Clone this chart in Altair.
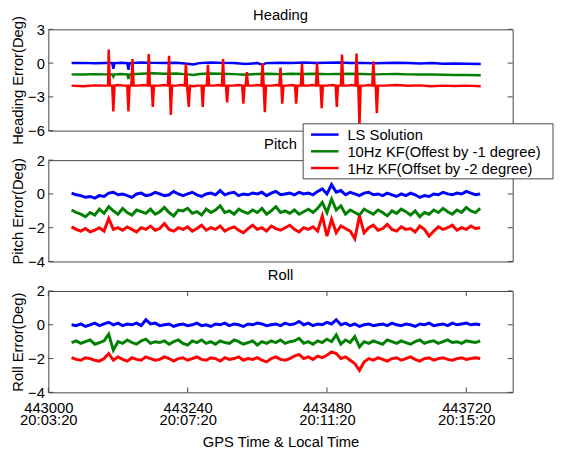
import altair as alt
import pandas as pd

# ---------------- data ----------------
GPS_T0 = 443000  # seconds of GPS week at left edge of the axis

SERIES = ["LS Solution", "10Hz KF(Offest by -1 degree)", "1Hz KF(Offset by -2 degree)"]
COLORS = ["#0000ff", "#008000", "#ff0000"]

PANEL_TITLES = ["Heading", "Pitch", "Roll"]
Y_TITLES = ["Heading Error(Deg)", "Pitch Error(Deg)", "Roll Error(Deg)"]
X_TITLE = "GPS Time & Local Time"

X_TICKS = [443000, 443240, 443480, 443720]
X_TICK_CLOCK = ["20:03:20", "20:07:20", "20:11:20", "20:15:20"]
HEADING_TICKS = [3, 0, -3, -6]
PR_TICKS = [2, 0, -2, -4]

# Heading (seconds after GPS_T0, degrees)
heading_blue_t = [40, 60, 80, 100, 110, 112, 114, 125, 136, 138, 140, 160, 180, 200, 220, 240, 250, 260,
                  280, 300, 320, 340, 360, 369, 375, 400, 420, 440, 460, 480, 500, 520, 540, 560, 580,
                  600, 620, 640, 660, 680, 700, 720, 745]
heading_blue_v = [0.0, 0.02, -0.02, 0.0, 0.0, -0.5, 0.0, 0.03, 0.0, -0.6, 0.0, 0.05, 0.02, 0.0, 0.03,
                  -0.05, -0.12, 0.0, 0.05, 0.02, 0.0, -0.08, 0.0, -0.15, 0.0, 0.03, 0.0, 0.05, 0.0, 0.03,
                  0.05, 0.0, 0.02, -0.02, 0.0, 0.03, 0.0, -0.03, 0.0, -0.05, -0.03, -0.05, -0.08]

heading_green_t = [40, 60, 80, 100, 110, 112, 114, 125, 136, 138, 140, 160, 180, 200, 220, 240, 250, 260,
                   280, 300, 320, 340, 360, 380, 400, 420, 440, 460, 480, 500, 520, 540, 560, 580, 600,
                   620, 640, 660, 680, 700, 720, 745]
heading_green_v = [-1.0, -1.02, -0.98, -1.0, -1.0, -1.2, -1.0, -0.97, -1.0, -1.4, -1.0, -0.95, -0.9,
                   -0.95, -0.92, -1.0, -1.05, -0.97, -0.93, -0.95, -0.98, -1.03, -0.97, -0.95, -0.98,
                   -0.95, -0.97, -0.95, -0.98, -0.96, -0.94, -0.97, -1.0, -0.98, -0.97, -1.0, -1.02,
                   -1.0, -1.03, -1.05, -1.05, -1.07]

heading_red_t = [40, 60, 80, 100,
                 103, 104, 106, 110, 112, 114, 120, 130, 136,
                 138, 140, 143, 145, 147, 155, 165, 171,
                 173, 175, 178, 180, 182, 190, 200, 206,
                 208, 209.5, 211, 213, 220, 230, 235,
                 237, 239, 242, 244, 250, 258, 264,
                 266, 268, 273, 275, 277, 285, 295, 299,
                 301, 303, 306, 308, 310, 318, 328, 334,
                 336, 338, 340, 342, 344, 352, 360, 367,
                 369, 371, 373, 375, 385, 393, 398,
                 400, 401.5, 403, 405, 412, 420, 425,
                 427, 429, 435, 437, 439, 447, 455, 461,
                 463, 465, 469, 471, 473, 480, 490, 495,
                 497, 499, 504, 506, 508, 515, 523, 529,
                 531, 533, 534, 536, 538, 545, 552, 558,
                 560, 562, 564, 566, 568, 580, 600, 620, 640, 660, 680, 700, 720, 745]
heading_red_v = [-2.0, -2.05, -1.98, -2.0,
                 -2.0, 1.2, -2.0, -2.0, -4.3, -2.0, -1.95, -2.0, -2.0,
                 -4.3, -2.0, -2.0, 0.35, -2.0, -2.0, -1.95, -2.0,
                 0.8, -2.0, -2.0, -3.9, -2.0, -2.0, -1.95, -2.0,
                 0.65, -2.0, -4.6, -2.0, -2.0, -1.95, -2.0,
                 -0.05, -2.0, -3.9, -2.0, -2.05, -2.0, -2.0,
                 -3.9, -2.0, -2.0, -0.15, -2.0, -2.0, -1.95, -2.0,
                 0.35, -2.0, -2.0, -3.5, -2.0, -2.0, -1.95, -2.0,
                 -3.6, -2.0, -2.0, -0.8, -2.0, -2.0, -1.95, -2.0,
                 0.0, -2.0, -4.35, -2.0, -2.0, -1.95, -2.0,
                 -0.4, -2.0, -3.6, -2.0, -2.0, -1.95, -2.0,
                 -3.6, -2.0, -2.0, -0.05, -2.0, -2.0, -1.95, -2.0,
                 0.0, -2.0, -2.0, -4.0, -2.0, -2.0, -1.95, -2.0,
                 -3.9, -2.0, -2.0, 0.75, -2.0, -2.0, -1.95, -2.0,
                 0.85, -2.0, -2.0, -5.6, -2.0, -2.0, -1.95, -2.0,
                 0.15, -2.0, -2.0, -4.45, -2.0, -2.0, -1.95, -2.02, -1.98, -2.05, -2.0, -2.03, -2.0, -2.05]

# Pitch & Roll: sampled every 8 s from GPS_T0 + 40 s
PR_START = 40
PR_STEP = 8

pitch_blue = [
    0.05, -0.05, -0.1, -0.2, -0.15, -0.25, -0.1, -0.15, 0.05, 0.1, -0.05, 0.0, -0.1, -0.2, 0.0, 0.05,
    -0.1, -0.05, 0.1, 0.0, -0.1, -0.05, 0.15, 0.0, -0.1, 0.0, 0.1, -0.05, -0.15, 0.0, 0.05, -0.05,
    0.2, -0.05, 0.05, 0.1, -0.1, 0.0, -0.05, 0.05, 0.0, 0.1, -0.1, 0.05, 0.15, -0.05, 0.0, 0.05,
    -0.05, 0.1, 0.0, 0.05, -0.05, 0.15, 0.3, 0.0, 0.55, 0.1, 0.2, -0.05, 0.1, 0.0, -0.1, 0.05,
    0.1, -0.05, 0.0, -0.1, 0.05, -0.05, -0.15, 0.0, -0.1, 0.05, -0.05, -0.2, -0.1, -0.15, 0.0, -0.05,
    0.1, 0.0, -0.05, 0.05, 0.0, 0.15, 0.05, -0.05, 0.0]
pitch_green = [
    -0.95, -1.1, -1.2, -1.35, -1.1, -1.25, -0.9, -1.15, -0.75, -1.0, -1.2, -0.85, -1.1, -1.25, -0.95, -1.05,
    -1.15, -0.9, -1.2, -1.05, -0.8, -1.1, -1.3, -0.95, -1.0, -0.85, -1.15, -1.05, -1.25, -0.9, -1.1, -0.95,
    -0.7, -1.1, -1.0, -1.2, -0.9, -1.05, -1.15, -0.95, -1.1, -0.85, -1.2, -1.0, -0.75, -1.1, -1.0, -1.15,
    -0.95, -1.2, -1.05, -0.9, -1.1, -0.85, -0.5, -1.1, -0.3, -0.95, -0.7, -1.2, -0.95, -1.1, -1.25, -0.9,
    -1.05, -1.2, -0.95, -1.1, -1.3, -1.0, -1.15, -0.9, -1.05, -1.25, -1.0, -1.35, -1.1, -1.2, -0.95, -1.1,
    -0.85, -1.05, -1.2, -0.95, -1.1, -0.8, -1.0, -1.1, -0.85]
pitch_red = [
    -1.95, -2.1, -2.2, -2.05, -2.25, -2.15, -2.0, -2.2, -1.45, -2.1, -2.0, -2.15, -1.95, -2.1, -2.25, -2.0,
    -2.1, -1.9, -2.15, -2.05, -1.75, -2.1, -2.2, -2.0, -2.1, -1.95, -2.2, -2.05, -1.85, -2.15, -2.0, -2.1,
    -1.9, -2.2, -2.05, -1.95, -2.15, -2.3, -2.05, -1.85, -2.1, -2.0, -2.2, -1.9, -2.05, -2.15, -2.0, -1.85,
    -2.1, -2.25, -2.0, -2.1, -1.95, -2.2, -1.3, -2.5, -1.5, -2.3, -1.9, -2.05, -2.2, -2.65, -1.3, -2.3,
    -2.0, -1.85, -2.15, -2.05, -1.8, -2.1, -2.2, -1.95, -2.1, -2.05, -2.25, -1.9, -2.1, -2.5, -2.2, -1.95,
    -2.1, -2.0, -1.85, -2.15, -2.0, -2.1, -1.9, -2.05, -2.0]

roll_blue = [
    0.0, -0.05, 0.05, -0.1, 0.0, 0.1, -0.05, 0.05, 0.15, 0.0, 0.1, -0.05, 0.05, 0.0, 0.1, -0.05,
    0.3, 0.05, 0.1, -0.05, 0.0, 0.05, -0.1, 0.0, 0.05, -0.05, 0.0, 0.1, -0.05, 0.0, -0.1, 0.05,
    0.0, 0.1, -0.05, 0.05, 0.0, -0.1, 0.05, 0.0, 0.1, 0.05, -0.05, 0.0, 0.05, -0.05, 0.1, 0.0,
    0.05, 0.2, 0.0, 0.1, -0.05, 0.05, 0.0, 0.15, 0.05, 0.3, 0.0, 0.1, -0.05, 0.05, -0.1, 0.0,
    0.05, -0.05, 0.0, 0.05, -0.05, 0.1, 0.0, -0.05, 0.05, 0.0, -0.1, 0.05, 0.0, 0.1, -0.05, 0.0,
    0.05, -0.05, 0.1, 0.0, 0.05, 0.1, 0.0, 0.05, 0.0]
roll_green = [
    -1.05, -0.95, -1.1, -1.0, -0.9, -1.15, -1.05, -0.95, -0.55, -1.5, -1.0, -1.1, -0.9, -1.05, -1.15, -0.95,
    -0.85, -1.1, -1.0, -1.05, -0.95, -1.15, -1.0, -0.9, -1.1, -1.2, -0.95, -1.05, -0.9, -1.1, -1.0, -1.15,
    -0.95, -1.05, -1.1, -0.9, -1.0, -1.15, -1.05, -0.95, -1.2, -1.0, -1.1, -0.95, -1.05, -0.9, -1.1, -1.0,
    -0.95, -0.8, -1.1, -1.0, -1.15, -0.95, -1.05, -0.85, -1.0, -0.6, -1.15, -0.9, -1.05, -0.7, -1.3, -1.0,
    -1.1, -0.95, -1.05, -1.15, -0.9, -1.0, -1.1, -0.95, -1.05, -1.15, -1.0, -0.9, -1.1, -1.0, -0.95, -1.1,
    -1.0, -0.9, -1.05, -1.0, -1.1, -0.95, -1.0, -1.05, -0.95]
roll_red = [
    -1.95, -2.05, -2.1, -1.95, -2.0, -2.1, -2.15, -2.0, -1.7, -2.1, -1.9, -2.05, -2.15, -1.95, -2.05, -2.1,
    -1.9, -2.0, -2.1, -2.05, -1.9, -2.0, -2.15, -2.0, -1.95, -2.1, -2.0, -1.9, -2.05, -2.1, -1.95, -2.0,
    -2.15, -1.95, -2.05, -2.0, -1.9, -2.1, -2.0, -2.05, -1.95, -2.1, -2.2, -2.0, -1.9, -2.05, -2.1, -2.0,
    -1.85, -1.75, -2.0, -1.9, -2.05, -1.85, -1.95, -1.8, -1.6, -1.7, -2.0, -1.9, -2.1, -2.3, -2.7, -2.2,
    -2.0, -2.1, -1.95, -2.05, -2.15, -2.0, -1.95, -2.1, -2.0, -1.9, -2.05, -2.15, -2.0, -1.95, -2.1, -2.0,
    -1.95, -2.05, -2.1, -2.0, -1.95, -2.05, -2.0, -1.95, -2.0]

# ---------------- frames ----------------
def make_frame(parts):
    rows = []
    for name, ts, vs in parts:
        for t, v in zip(ts, vs):
            rows.append({"t": GPS_T0 + t, "v": v, "series": name})
    return pd.DataFrame(rows)

pr_t = [PR_START + PR_STEP * i for i in range(len(pitch_blue))]

heading_df = make_frame([(SERIES[0], heading_blue_t, heading_blue_v),
                         (SERIES[1], heading_green_t, heading_green_v),
                         (SERIES[2], heading_red_t, heading_red_v)])
pitch_df = make_frame([(SERIES[0], pr_t, pitch_blue),
                       (SERIES[1], pr_t, pitch_green),
                       (SERIES[2], pr_t, pitch_red)])
roll_df = make_frame([(SERIES[0], pr_t, roll_blue),
                      (SERIES[1], pr_t, roll_green),
                      (SERIES[2], pr_t, roll_red)])

# ---------------- chart ----------------
W, H = 472, 103
TICK = 5
EDGE = "#444444"
FONT = "Liberation Sans"

label_expr = ""
for v, clk in zip(X_TICKS, X_TICK_CLOCK):
    label_expr += f"datum.value == {v} ? ['{v}', '{clk}'] : "
label_expr += "''"

x_scale = alt.Scale(domain=[443000, 443800], nice=False, zero=False)
color_scale = alt.Scale(domain=SERIES, range=COLORS)


def legend_layers():
    """Legend box drawn inside the Pitch panel (overlapping the Heading panel, like MATLAB)."""
    box_x, box_x2, box_y, box_y2 = 259, 513, -37, 19
    row_y = [-26, -9, 8]
    layers = [alt.Chart(pd.DataFrame({"series": [SERIES[0]]})).mark_rect(
        fill="white", stroke=EDGE, strokeWidth=1).encode(
        x=alt.value(box_x), x2=alt.value(box_x2), y=alt.value(box_y), y2=alt.value(box_y2))]
    for i, name in enumerate(SERIES):
        row = alt.Chart(pd.DataFrame({"series": [name]}))
        layers.append(row.mark_rule(strokeWidth=2.5).encode(
            x=alt.value(267), x2=alt.value(295), y=alt.value(row_y[i]),
            color=alt.Color("series:N", scale=color_scale, legend=None)))
        layers.append(row.mark_text(align="left", baseline="middle", fontSize=15, font=FONT,
                                    color="black").encode(
            x=alt.value(304), y=alt.value(row_y[i] + 1), text="series:N"))
    return layers


def panel(df, title, title_y, ytitle, ydomain, yticks, show_x, line_w, with_legend=False):
    if show_x:
        x_axis = alt.Axis(values=X_TICKS, labelExpr=label_expr, ticks=False, tickSize=0, domain=False,
                          grid=False, title=X_TITLE, labelLineHeight=13,
                          labelPadding=8, titleY=55, titleBaseline="alphabetic", labelAngle=0,
                          labelFlush=False, labelOverlap=False)
    else:
        x_axis = None
    X = alt.X("t:Q", scale=x_scale, axis=x_axis)
    y_scale = alt.Scale(domain=ydomain, nice=False, zero=False)
    y_axis = alt.Axis(values=yticks, ticks=False, tickSize=0, domain=False, grid=False, title=ytitle,
                      labelPadding=4, titlePadding=2, labelFlush=False, labelOverlap=False)
    Y = alt.Y("v:Q", scale=y_scale, axis=y_axis)

    lines = alt.Chart(df).mark_line(strokeWidth=line_w, clip=True).encode(
        x=X, y=Y, color=alt.Color("series:N", scale=color_scale, legend=None),
    )
    tdf = pd.DataFrame({"v": yticks})
    yt_left = alt.Chart(tdf).mark_rule(color=EDGE).encode(y=Y, x=alt.value(0), x2=alt.value(TICK))
    yt_right = alt.Chart(tdf).mark_rule(color=EDGE).encode(y=Y, x=alt.value(W - TICK), x2=alt.value(W))
    layers = [lines, yt_left, yt_right]
    if show_x:
        xdf = pd.DataFrame({"t": X_TICKS})
        layers.append(alt.Chart(xdf).mark_rule(color=EDGE).encode(
            x=X, y=alt.value(H), y2=alt.value(H - TICK)))
        layers.append(alt.Chart(xdf).mark_rule(color=EDGE).encode(
            x=X, y=alt.value(0), y2=alt.value(TICK)))
    layers.append(alt.Chart(pd.DataFrame({"title": [title]})).mark_text(
        align="center", baseline="alphabetic", fontSize=15, font=FONT, color="black").encode(
        text="title:N", x=alt.value(W / 2), y=alt.value(title_y)))
    if with_legend:
        layers += legend_layers()
    return alt.layer(*layers).properties(width=W, height=H)


heading = panel(heading_df, PANEL_TITLES[0], -9, Y_TITLES[0], [-6, 3], HEADING_TICKS, False, 2.5)
pitch = panel(pitch_df, PANEL_TITLES[1], -11, Y_TITLES[1], [-4, 2], PR_TICKS, False, 3, with_legend=True)
roll = panel(roll_df, PANEL_TITLES[2], -11, Y_TITLES[2], [-4, 2], PR_TICKS, True, 3)

chart = alt.vconcat(heading, pitch, roll, spacing=30, bounds="flush").properties(
    padding={"left": 2, "top": -4, "right": 0, "bottom": 0}
).configure(font=FONT).configure_axis(
    labelFontSize=15, titleFontSize=15, labelColor="black", titleColor="black",
    titleFontWeight="normal", labelFont=FONT, titleFont=FONT
).configure_view(stroke=EDGE, strokeWidth=1)

chart.save("out.html", embed_options={"renderer": "svg", "actions": False})
